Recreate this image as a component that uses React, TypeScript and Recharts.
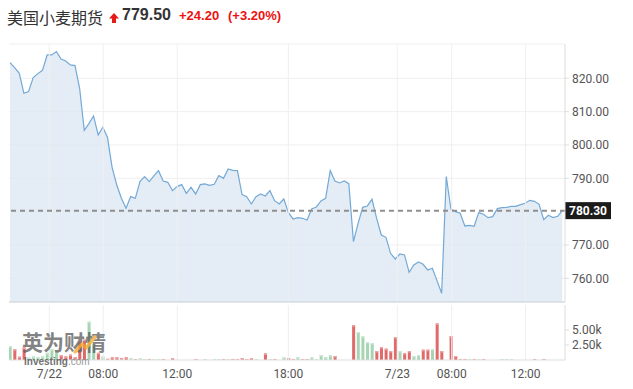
import React from 'react';
import { ComposedChart, Area, Bar, XAxis, YAxis, CartesianGrid, ReferenceLine } from 'recharts';

const prices = [
  824.7, 823.2, 821.5, 815.5, 816, 820.2, 821.4, 822.4, 827, 827,
  828, 825.8, 825.2, 824, 823.8, 817, 804.4, 806.4, 808.7, 803,
  805.3, 802.3, 793.3, 788, 784, 781, 784.5, 784, 789, 790.5,
  789, 790.7, 792.3, 789.2, 788.8, 786.3, 787.5, 788.1, 785.5, 787.3,
  785.3, 788.1, 788.3, 787.9, 788.2, 790.8, 790, 792.8, 792.4, 792.3,
  785.1, 784.5, 782.3, 784.5, 785.3, 784.7, 786.3, 783.3, 782.3, 783.8,
  779.7, 777.8, 778.2, 778, 777.5, 780.8, 781.4, 783.2, 784, 792.3,
  789.2, 788.6, 789.2, 788.4, 771, 776.5, 781.3, 781.7, 783.7, 778,
  773, 772.3, 767.5, 765.8, 767.3, 767, 761.8, 764, 764.9, 764.2,
  762.5, 763, 759.3, 755.5, 790.5, 780.8, 780, 779.5, 775.7, 775.9,
  775.6, 779.7, 779.2, 778.2, 778.5, 780.9, 781.2, 781.3, 781.6, 781.6,
  782.1, 782.5, 783.4, 783.1, 782.2, 777.6, 778.9, 778.2, 778.6, 780.3,
];

const volumes = [
  2300, 1800, 550, 2100, 400, 600, 500, 600, 1200, 1800,
  1500, 800, 600, 900, 500, 2900, 3400, 6400, 2600, 1200,
  600, 200, 450, 450, 300, 450, 300, 170, 250, 170,
  170, 170, 170, 170, 0, 330, 0, 0, 0, 0,
  170, 0, 170, 0, 170, 170, 170, 170, 170, 170,
  330, 170, 330, 170, 0, 1100, 170, 170, 0, 440,
  330, 170, 440, 170, 170, 440, 170, 830, 500, 830,
  670, 0, 0, 0, 5830, 4670, 3940, 3000, 2830, 1500,
  2170, 1890, 1500, 3830, 1500, 1170, 1500, 670, 830, 1720,
  1720, 1830, 6100, 1500, 0, 4000, 670, 170, 170, 170,
  170, 170, 170, 0, 0, 0, 170, 170, 170, 0,
  0, 0, 0, 170, 0, 170, 0, 0, 0, 0,
];

const timeTickPositions = [8.47, 20.1, 36.05, 59.97, 83.45, 95.17, 111.1];
const timeTickLabels = ['7/22', '08:00', '12:00', '18:00', '7/23', '08:00', '12:00'];
const priceTicks = [760, 770, 790, 800, 810, 820];
const priceDomain = [752.89, 830.29];
const volumeTicks = [2500, 5000];
const volumeDomain = [0, 9170];
const indexDomain = [-0.215, 119.58];

const title = '美国小麦期货';
const quote = '779.50';
const change = '+24.20';
const changePct = '(+3.20%)';
const lastPrice = 780.3;
const lastPriceLabel = '780.30';
const watermarkCn = '英为财情';
const watermarkEn = 'Investing';
const watermarkDomain = '.com';

const data = prices.map((p, i) => ({
  i,
  price: p,
  volume: volumes[i],
  up: i === 0 ? true : p >= prices[i - 1],
}));

const axisFont = 'Roboto, "Liberation Sans", Arial, sans-serif';

const PriceTag = (props: any) => {
  const { viewBox } = props;
  if (!viewBox) return null;
  const x = viewBox.x + viewBox.width;
  const y = viewBox.y;
  return (
    <g>
      <rect x={x} y={y - 8.5} width={46} height={17} fill="#1b1b1b" />
      <text x={x + 23} y={y} dy="0.36em" textAnchor="middle" fill="#ffffff" fontSize={12} fontWeight="bold" fontFamily={axisFont}>
        {lastPriceLabel}
      </text>
    </g>
  );
};

const VolBar = (props: any) => {
  const { x, y, width, height, payload } = props;
  if (!height || height <= 0) return null;
  const up = payload && payload.up;
  const body = up ? '#a5d5b2' : '#e06a6a';
  const cap = up ? '#cbe8d3' : '#efa6a6';
  return (
    <g>
      <rect x={x} y={y} width={width} height={height} fill={body} />
      <rect x={x} y={y} width={width} height={Math.min(1.5, height)} fill={cap} />
    </g>
  );
};

const fmtVol = (v: number) => (v / 1000).toFixed(2) + 'k';

export default function App() {
  return (
    <div style={{ position: 'absolute', left: 0, top: 0, width: 633, height: 389, background: '#fff', overflow: 'hidden' }}>
      {/* header */}
      <div style={{ position: 'absolute', left: 7, top: 6, height: 22, whiteSpace: 'nowrap' }}>
        <span style={{ fontFamily: '"Noto Sans CJK SC", sans-serif', fontSize: 16, color: '#333', lineHeight: '22px' }}>{title}</span>
      </div>
      <svg style={{ position: 'absolute', left: 109, top: 13 }} width={10} height={10}>
        <polygon points="5,0 10,5.5 7,5.5 7,10 3,10 3,5.5 0,5.5" fill="#e41b17" />
      </svg>
      <div style={{ position: 'absolute', left: 122, top: 4, fontFamily: '"Liberation Sans", Arial, sans-serif', fontWeight: 'bold', fontSize: 16, color: '#333', lineHeight: '22px', whiteSpace: 'nowrap' }}>
        {quote}
      </div>
      <div style={{ position: 'absolute', left: 179, top: 6, fontFamily: '"Liberation Sans", Arial, sans-serif', fontWeight: 'bold', fontSize: 13, color: '#ee1111', lineHeight: '20px', whiteSpace: 'nowrap' }}>
        {change}
      </div>
      <div style={{ position: 'absolute', left: 228, top: 6, fontFamily: '"Liberation Sans", Arial, sans-serif', fontWeight: 'bold', fontSize: 13, color: '#ee1111', lineHeight: '20px', whiteSpace: 'nowrap' }}>
        {changePct}
      </div>

      {/* price pane */}
      <div style={{ position: 'absolute', left: 0, top: 0 }}>
        <ComposedChart width={633} height={310} data={data} margin={{ top: 44, right: 0, bottom: 7, left: 9 }}>
          <CartesianGrid vertical={false} stroke="#efefef" />
          <XAxis
            type="number"
            dataKey="i"
            domain={indexDomain}
            allowDataOverflow
            ticks={timeTickPositions}
            tick={false}
            tickLine={false}
            axisLine={{ stroke: '#cbd3da' }}
            height={1}
          />
          <YAxis
            orientation="right"
            width={68}
            domain={priceDomain}
            allowDataOverflow
            ticks={priceTicks}
            interval={0}
            axisLine={{ stroke: '#dddddd' }}
            tickLine={{ stroke: '#dddddd' }}
            tickSize={4}
            tickMargin={3}
            tick={{ fill: '#555', fontSize: 12, fontFamily: axisFont }}
            tickFormatter={(v: number) => v.toFixed(2)}
          />
          {timeTickPositions.map((t) => (
            <ReferenceLine key={'g' + t} x={t} stroke="#efefef" />
          ))}
          <Area
            type="linear"
            dataKey="price"
            stroke="#74a9d6"
            strokeWidth={1.2}
            fill="#dde8f2"
            fillOpacity={0.8}
            dot={false}
            activeDot={false}
            isAnimationActive={false}
          />
          <ReferenceLine y={lastPrice} stroke="#8f8f8f" strokeWidth={2} strokeDasharray="5 4" label={<PriceTag />} />
        </ComposedChart>
      </div>

      {/* volume pane */}
      <div style={{ position: 'absolute', left: 0, top: 0 }}>
        <ComposedChart width={633} height={389} data={data} margin={{ top: 305, right: 0, bottom: 5, left: 9 }}>
          <XAxis
            type="number"
            dataKey="i"
            domain={indexDomain}
            allowDataOverflow
            ticks={timeTickPositions}
            interval={0}
            tickFormatter={(v: number) => timeTickLabels[timeTickPositions.indexOf(v)] || ''}
            tick={{ fill: '#555', fontSize: 12, fontFamily: axisFont }}
            tickLine={false}
            tickSize={7}
            tickMargin={2}
            axisLine={{ stroke: '#dddddd' }}
            height={24}
          />
          <YAxis
            orientation="right"
            width={68}
            domain={volumeDomain}
            allowDataOverflow
            ticks={volumeTicks}
            interval={0}
            axisLine={{ stroke: '#dddddd' }}
            tickLine={{ stroke: '#dddddd' }}
            tickSize={4}
            tickMargin={3}
            tick={{ fill: '#555', fontSize: 12, fontFamily: axisFont }}
            tickFormatter={fmtVol}
          />
          {timeTickPositions.map((t) => (
            <ReferenceLine key={'v' + t} x={t} stroke="#efefef" />
          ))}
          <Bar dataKey="volume" barSize={3} shape={<VolBar />} isAnimationActive={false} />
        </ComposedChart>
      </div>

      {/* watermark */}
      <div style={{ position: 'absolute', left: 22, top: 330, width: 90, height: 40, opacity: 0.75, pointerEvents: 'none' }}>
        <div style={{ position: 'absolute', left: 0, top: 0, fontFamily: '"Noto Sans CJK SC", sans-serif', fontWeight: 'bold', fontSize: 21, color: '#5a5a5a', lineHeight: '22px', height: 22, whiteSpace: 'nowrap' }}>
          {watermarkCn}
        </div>
        <svg style={{ position: 'absolute', left: 50, top: 4 }} width={26} height={20}>
          <path d="M3,18 L10,10 L14,14 L23,3" stroke="#f5a623" strokeWidth={3.2} fill="none" strokeLinejoin="round" strokeLinecap="round" />
        </svg>
        <div style={{ position: 'absolute', left: 2, top: 27, fontFamily: '"Liberation Sans", Arial, sans-serif', fontSize: 10, fontWeight: 'bold', color: '#444', lineHeight: '10px', height: 10, whiteSpace: 'nowrap' }}>
          {watermarkEn}<span style={{ fontWeight: 'normal', color: '#777' }}>{watermarkDomain}</span>
        </div>
      </div>
    </div>
  );
}
